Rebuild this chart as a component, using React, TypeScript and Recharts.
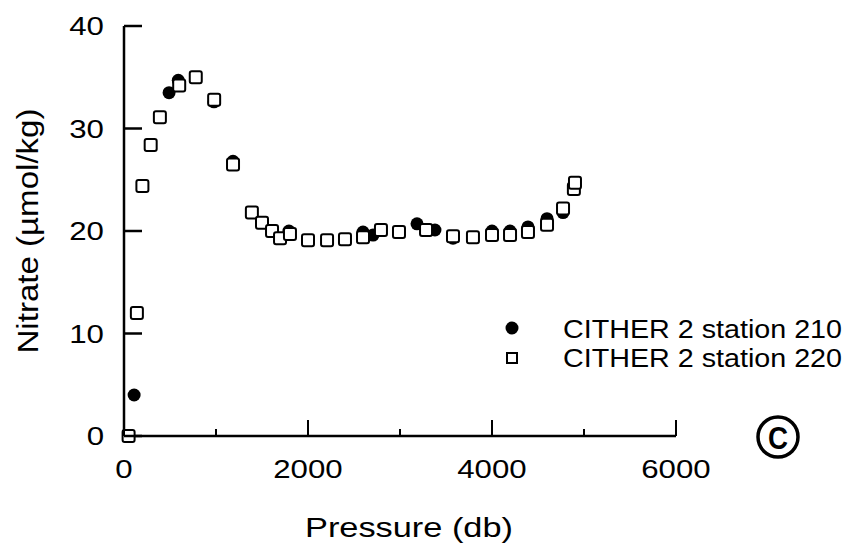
import React from "react";
import { Label, Scatter, ScatterChart, XAxis, YAxis } from "recharts";

// CITHER 2 station 210 (filled circles)
const pressure210 = [110, 490, 590, 978, 1185, 1793, 2598, 2707, 3185, 3380, 3576, 4000, 4196, 4391, 4598, 4772];
const nitrate210 = [4.0, 33.5, 34.7, 32.6, 26.8, 20.0, 19.9, 19.6, 20.7, 20.1, 19.3, 20.0, 20.0, 20.4, 21.2, 21.8];

// CITHER 2 station 220 (open squares)
const pressure220 = [
  50, 140, 200, 290, 390, 600, 780, 980, 1185, 1390, 1500, 1609, 1696, 1804, 2000, 2207, 2402, 2598, 2793,
  2989, 3283, 3576, 3793, 4000, 4196, 4391, 4598, 4772, 4890, 4902,
];
const nitrate220 = [
  0.0, 12.0, 24.4, 28.4, 31.1, 34.2, 35.0, 32.8, 26.5, 21.8, 20.8, 20.0, 19.3, 19.7, 19.1, 19.1, 19.2, 19.4, 20.1,
  19.9, 20.1, 19.5, 19.4, 19.6, 19.6, 19.9, 20.6, 22.2, 24.1, 24.7,
];

const xTicks = [0, 1000, 2000, 3000, 4000, 5000, 6000];
const xLabelled = [0, 2000, 4000, 6000];
const yTicks = [0, 10, 20, 30, 40];

const station210 = pressure210.map((p, i) => ({ p, n: nitrate210[i] }));
const station220 = pressure220.map((p, i) => ({ p, n: nitrate220[i] }));

const FONT = "'Liberation Sans', Arial, sans-serif";
// the scan is stretched sideways, so text is widened to match
const digitWidth = (s: string) => s.length * 0.556 * 25 * 1.25;

function YTick({ x, y, payload }: any) {
  const s = String(payload.value);
  return (
    <g>
      <line x1={x} x2={x + 18} y1={y} y2={y} stroke="#000" strokeWidth={2.5} />
      <text
        x={x - 20}
        y={y + 9}
        textAnchor="end"
        fontSize={25}
        fontFamily={FONT}
        fill="#000"
        textLength={digitWidth(s)}
        lengthAdjust="spacingAndGlyphs"
      >
        {s}
      </text>
    </g>
  );
}

function XTick({ x, y, payload }: any) {
  const v = payload.value as number;
  const major = xLabelled.includes(v);
  const s = String(v);
  return (
    <g>
      <line x1={x} x2={x} y1={y} y2={y - (major ? 16 : 7)} stroke="#000" strokeWidth={2} />
      {major && (
        <text
          x={x}
          y={y + 42}
          textAnchor="middle"
          fontSize={25}
          fontFamily={FONT}
          fill="#000"
          textLength={digitWidth(s)}
          lengthAdjust="spacingAndGlyphs"
        >
          {s}
        </text>
      )}
    </g>
  );
}

function XTitle({ viewBox }: any) {
  const cx = viewBox.x + viewBox.width / 2 + 9;
  return (
    <text
      x={cx}
      y={viewBox.y + 101}
      textAnchor="middle"
      fontSize={28}
      fontFamily={FONT}
      fill="#000"
      textLength={208}
      lengthAdjust="spacingAndGlyphs"
    >
      Pressure (db)
    </text>
  );
}

function YTitle({ viewBox }: any) {
  const x = viewBox.x + 38;
  const y = viewBox.y + viewBox.height / 2;
  return (
    <text
      x={x}
      y={y}
      transform={`rotate(-90 ${x} ${y})`}
      textAnchor="middle"
      fontSize={30}
      fontFamily={FONT}
      fill="#000"
      textLength={245}
      lengthAdjust="spacingAndGlyphs"
    >
      Nitrate (µmol/kg)
    </text>
  );
}

const Dot = (props: any) => <circle cx={props.cx} cy={props.cy} r={6.5} fill="#000" />;
const Box = (props: any) => (
  <rect x={props.cx - 6} y={props.cy - 6} width={12} height={12} rx={2} fill="#fff" stroke="#000" strokeWidth={2} />
);

export default function App() {
  return (
    <div style={{ position: "absolute", left: 0, top: 0, width: 853, height: 554, background: "#fff" }}>
      <ScatterChart width={853} height={554} margin={{ top: 26, right: 177, bottom: 8, left: 0 }}>
        <XAxis
          type="number"
          dataKey="p"
          domain={[0, 6000]}
          ticks={xTicks}
          interval={0}
          height={110}
          tickSize={0}
          tickMargin={0}
          tickLine={false}
          tick={<XTick />}
          axisLine={{ stroke: "#000", strokeWidth: 2.5 }}
        >
          <Label content={<XTitle />} />
        </XAxis>
        <YAxis
          type="number"
          dataKey="n"
          domain={[0, 40]}
          ticks={yTicks}
          interval={0}
          width={124}
          tickSize={0}
          tickMargin={0}
          tickLine={false}
          tick={<YTick />}
          axisLine={{ stroke: "#000", strokeWidth: 2.5 }}
        >
          <Label content={<YTitle />} />
        </YAxis>
        <Scatter data={station210} shape={Dot} isAnimationActive={false} />
        <Scatter data={station220} shape={Box} isAnimationActive={false} />
      </ScatterChart>
      <svg
        width={853}
        height={554}
        style={{ position: "absolute", left: 0, top: 0, pointerEvents: "none" }}
      >
        <circle cx={512} cy={328} r={6.5} fill="#000" />
        <text x={563} y={338} fontSize={25} fontFamily={FONT} textLength={279} lengthAdjust="spacingAndGlyphs">
          CITHER 2 station 210
        </text>
        <rect x={507} y={353} width={10} height={10} fill="#fff" stroke="#000" strokeWidth={2} />
        <text x={563} y={367} fontSize={25} fontFamily={FONT} textLength={279} lengthAdjust="spacingAndGlyphs">
          CITHER 2 station 220
        </text>
        <circle cx={778} cy={437} r={20} fill="none" stroke="#000" strokeWidth={3.5} />
        <text
          x={778}
          y={449}
          textAnchor="middle"
          fontSize={32}
          fontWeight="bold"
          fontFamily={FONT}
          textLength={20}
          lengthAdjust="spacingAndGlyphs"
        >
          C
        </text>
      </svg>
    </div>
  );
}
